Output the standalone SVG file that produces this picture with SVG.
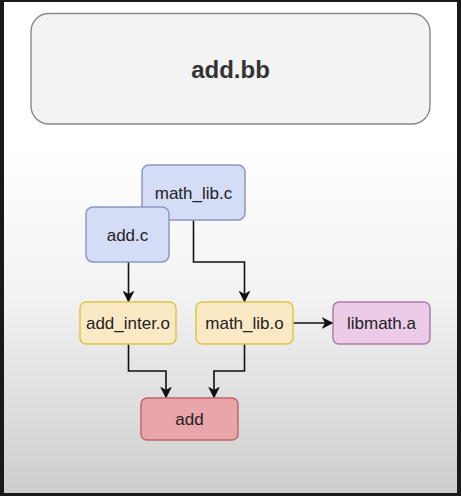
<svg xmlns="http://www.w3.org/2000/svg" width="461" height="496" viewBox="0 0 461 496">
  <defs>
    <linearGradient id="bg" x1="0" y1="0" x2="0" y2="496" gradientUnits="userSpaceOnUse">
      <stop offset="0" stop-color="#ffffff"/>
      <stop offset="0.3" stop-color="#ffffff"/>
      <stop offset="0.6" stop-color="#f2f2f2"/>
      <stop offset="1" stop-color="#cdcdcd"/>
    </linearGradient>
    <marker id="arr" viewBox="0 0 12 12" refX="11.5" refY="6" markerWidth="12" markerHeight="12" markerUnits="userSpaceOnUse" orient="auto">
      <path d="M0,0 L12,6 L0,12 L3.5,6 Z" fill="#111"/>
    </marker>
  </defs>
  <style>
    .lbl { font-family: "Liberation Sans", Arial, sans-serif; font-size: 17px; fill: #222; text-anchor: middle; }
    .title { font-family: "Liberation Sans", Arial, sans-serif; font-size: 24px; font-weight: bold; fill: #333; text-anchor: middle; }
    .blue { fill: #d5dcf6; stroke: #8a96c8; stroke-width: 1.5; }
    .yellow { fill: #fbe9c6; stroke: #d8c84a; stroke-width: 1.5; }
    .pink { fill: #eccbe9; stroke: #a97ea8; stroke-width: 1.5; }
    .red { fill: #e8a6aa; stroke: #c0666a; stroke-width: 1.5; }
    .edge { fill: none; stroke: #111; stroke-width: 1.6; marker-end: url(#arr); }
  </style>
  <rect x="0" y="0" width="461" height="496" fill="#1a1a1a"/>
  <rect x="4" y="2" width="453" height="491" fill="url(#bg)"/>

  <g id="add_bb">
    <rect x="31" y="13.5" width="399" height="110.5" rx="18" fill="#f3f3f3" stroke="#888" stroke-width="1.4"/>
    <text class="title" x="230.5" y="77.5">add.bb</text>
  </g>

  <g id="connectors">
    <path class="edge" d="M128.5,262 V302"/>
    <path class="edge" d="M193.5,220 V262 H244.5 V302"/>
    <path class="edge" d="M293,323 H333"/>
    <path class="edge" d="M128.5,344 V371 H166 V398"/>
    <path class="edge" d="M244.5,344 V371 H214 V398"/>
  </g>

  <g id="math_lib_c">
    <rect class="blue" x="142" y="165" width="103" height="55" rx="7"/>
    <text class="lbl" x="193.5" y="198.5">math_lib.c</text>
  </g>
  <g id="add_c">
    <rect class="blue" x="86" y="207" width="83" height="55" rx="7"/>
    <text class="lbl" x="127.5" y="240.5">add.c</text>
  </g>
  <g id="add_inter_o">
    <rect class="yellow" x="80" y="302" width="96" height="42" rx="6"/>
    <text class="lbl" x="128" y="329">add_inter.o</text>
  </g>
  <g id="math_lib_o">
    <rect class="yellow" x="196" y="302" width="97" height="42" rx="6"/>
    <text class="lbl" x="244.5" y="329">math_lib.o</text>
  </g>
  <g id="libmath_a">
    <rect class="pink" x="333" y="302" width="97" height="42" rx="6"/>
    <text class="lbl" x="381.5" y="329">libmath.a</text>
  </g>
  <g id="add">
    <rect class="red" x="141" y="398" width="97" height="42" rx="6"/>
    <text class="lbl" x="189.5" y="425">add</text>
  </g>
</svg>
